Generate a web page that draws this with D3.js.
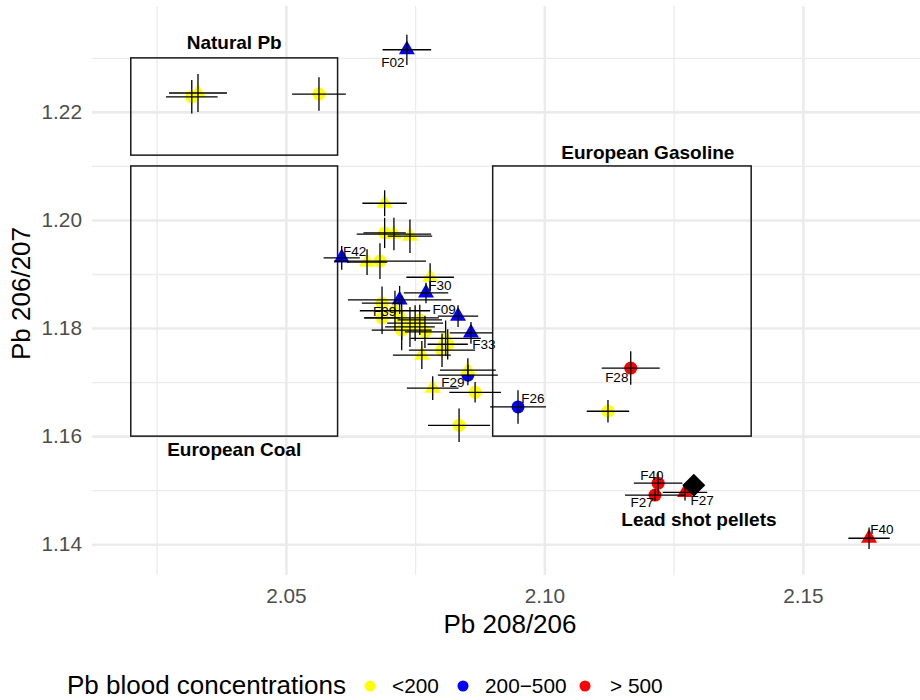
<!DOCTYPE html>
<html>
<head>
<meta charset="utf-8">
<script src="https://cdn.jsdelivr.net/npm/d3@7"></script>
<style>
  body { margin: 0; background: #fff; }
  svg { font-family: "Liberation Sans", Arial, sans-serif; display: block; }
</style>
</head>
<body>
<script>
// Pb isotope ratios of blood samples, with 1 sd error bars
const ratio208_206 = [2.0318, 2.0330, 2.0564, 2.0734, 2.0691, 2.0691, 2.0709, 2.0740, 2.0608, 2.0657,
  2.0682, 2.0779, 2.0771, 2.0720, 2.0686, 2.0686, 2.0711, 2.0724, 2.0750, 2.0724,
  2.0740, 2.0759, 2.0769, 2.0833, 2.0858, 2.0809, 2.0802, 2.0813, 2.0763, 2.0852,
  2.0852, 2.0784, 2.0866, 2.0835, 2.0949, 2.1123, 2.1167, 2.1220, 2.1214, 2.1272, 2.1628];
const ratio206_207 = [1.2228, 1.2235, 1.2233, 1.2315, 1.2031, 1.1976, 1.1974, 1.1970, 1.1930, 1.1922,
  1.1924, 1.1894, 1.1865, 1.1852, 1.1846, 1.1819, 1.1832, 1.1819, 1.1809, 1.1796,
  1.1802, 1.1815, 1.1793, 1.1822, 1.1791, 1.1781, 1.1759, 1.1770, 1.1750, 1.1713,
  1.1722, 1.1689, 1.1681, 1.1620, 1.1654, 1.1646, 1.1726, 1.1513, 1.1491, 1.1496, 1.1411];
const sd208_206 = [0.0050, 0.0056, 0.0052, 0.0047, 0.0043, 0.0041, 0.0072, 0.0043, 0.0035, 0.0039,
  0.0089, 0.0046, 0.0043, 0.0100, 0.0039, 0.0035, 0.0068, 0.0072, 0.0054, 0.0058,
  0.0048, 0.0043, 0.0039, 0.0039, 0.0041, 0.0068, 0.0064, 0.0039, 0.0056, 0.0058,
  0.0054, 0.0050, 0.0050, 0.0060, 0.0054, 0.0041, 0.0056, 0.0047, 0.0058, 0.0043, 0.0040];
const sd206_207 = [0.0031, 0.0035, 0.0031, 0.0028, 0.0024, 0.0028, 0.0030, 0.0031, 0.0022, 0.0024,
  0.0033, 0.0026, 0.0019, 0.0026, 0.0031, 0.0030, 0.0037, 0.0041, 0.0033, 0.0037,
  0.0037, 0.0028, 0.0030, 0.0020, 0.0020, 0.0033, 0.0031, 0.0028, 0.0026, 0.0019,
  0.0022, 0.0022, 0.0019, 0.0031, 0.0031, 0.0021, 0.0031, 0.0020, 0.0011, 0.0015, 0.0020];
const bloodClass = ["<200", "<200", "<200", "200-500", "<200", "<200", "<200", "<200", "200-500", "<200",
  "<200", "<200", "200-500", "200-500", "<200", "<200", "<200", "<200", "<200", "<200",
  "<200", "<200", "<200", "200-500", "200-500", "<200", "<200", "<200", "<200", "200-500",
  "<200", "<200", "<200", "<200", "200-500", "<200", "> 500", "> 500", "> 500", "> 500", "> 500"];
const markerShape = ["circle", "triangle", "circle", "triangle", "triangle", "circle", "triangle", "triangle", "triangle", "triangle",
  "circle", "triangle", "triangle", "triangle", "circle", "circle", "circle", "triangle", "circle", "circle",
  "triangle", "circle", "circle", "triangle", "triangle", "triangle", "circle", "circle", "triangle", "circle",
  "triangle", "triangle", "circle", "circle", "circle", "circle", "circle", "circle", "circle", "triangle", "triangle"];

// Sample id labels, placed in data units
const labelText = ["F02", "F42", "F30", "F09", "F33", "F39", "F29", "F26", "F28", "F40", "F27", "F27", "F40"];
const labelX = [2.0707, 2.0633, 2.0798, 2.0806, 2.0883, 2.0691, 2.0823, 2.0978, 2.1140, 2.1208, 2.1189, 2.1305, 2.1653];
const labelY = [1.2291, 1.1943, 1.1880, 1.1835, 1.1770, 1.1831, 1.1700, 1.1670, 1.1709, 1.1528, 1.1477, 1.1482, 1.1428];

// Lead shot pellets reference value
const pelletX = [2.1289];
const pelletY = [1.1509];

// Source regions
const regionName = ["Natural Pb", "European Coal", "European Gasoline"];
const regionX0 = [2.02, 2.02, 2.09];
const regionX1 = [2.06, 2.06, 2.14];
const regionY0 = [1.212, 1.16, 1.16];
const regionY1 = [1.23, 1.21, 1.21];
const regionLabelX = [2.04, 2.04, 2.12];
const regionLabelY = [1.2328, 1.1576, 1.2126];
const pelletLabel = { text: "Lead shot pellets", x: 2.1299, y: 1.1446 };

// Axis ticks
const xMajorTicks = [2.05, 2.10, 2.15];
const xMinorTicks = [2.025, 2.075, 2.125];
const yMajorTicks = [1.14, 1.16, 1.18, 1.20, 1.22];
const yMinorTicks = [1.15, 1.17, 1.19, 1.21, 1.23];

// Legend
const legendClasses = ["<200", "200-500", "> 500"];
const legendLabels = ["<200", "200\u2212500", "> 500"];
const classColors = ["#FFFF00", "#0000FF", "#FF0000"];

function drawIsotopeChart() {
  const width = 920, height = 700;
  const panel = { left: 92, right: 928, top: 6, bottom: 575 };

  const x = d3.scaleLinear().domain([2.0125, 2.1742]).range([panel.left, panel.right]);
  const y = d3.scaleLinear().domain([1.1343, 1.2396]).range([panel.bottom, panel.top]);
  const color = d3.scaleOrdinal().domain(legendClasses).range(classColors);

  const svg = d3.select("body").append("svg")
    .attr("width", width)
    .attr("height", height);

  // Grid lines (minor first, then major) with tick labels
  const gridH = panel.bottom - panel.top;
  const gridW = panel.right - panel.left;

  const styleGrid = (g, w) => {
    g.select(".domain").remove();
    g.selectAll(".tick line").attr("stroke", "#EBEBEB").attr("stroke-width", w);
  };

  svg.append("g")
    .attr("transform", `translate(0,${panel.bottom})`)
    .call(d3.axisBottom(x).tickValues(xMinorTicks).tickSize(-gridH).tickFormat(""))
    .call(g => styleGrid(g, 1.3));
  svg.append("g")
    .attr("transform", `translate(${panel.left},0)`)
    .call(d3.axisLeft(y).tickValues(yMinorTicks).tickSize(-gridW).tickFormat(""))
    .call(g => styleGrid(g, 1.3));

  const xAxis = svg.append("g")
    .attr("transform", `translate(0,${panel.bottom})`)
    .call(d3.axisBottom(x).tickValues(xMajorTicks).tickSize(-gridH).tickPadding(13).tickFormat(d3.format(".2f")))
    .call(g => styleGrid(g, 2.6));
  const yAxis = svg.append("g")
    .attr("transform", `translate(${panel.left},0)`)
    .call(d3.axisLeft(y).tickValues(yMajorTicks).tickSize(-gridW).tickPadding(10).tickFormat(d3.format(".2f")))
    .call(g => styleGrid(g, 2.6));

  [xAxis, yAxis].forEach(g => g.selectAll(".tick text")
    .attr("font-size", 20.8)
    .attr("font-family", "Liberation Sans, Arial, sans-serif")
    .attr("fill", "#4D4D4D"));

  // Axis titles
  svg.append("text")
    .attr("x", (panel.left + panel.right) / 2)
    .attr("y", 633)
    .attr("text-anchor", "middle")
    .attr("font-size", 26)
    .text("Pb 208/206");

  svg.append("text")
    .attr("transform", `translate(21,${(panel.top + panel.bottom) / 2 + 3}) rotate(-90)`)
    .attr("text-anchor", "middle")
    .attr("dy", "0.35em")
    .attr("font-size", 26)
    .text("Pb 206/207");

  // Source region boxes
  svg.append("g").selectAll("rect")
    .data(regionName)
    .join("rect")
    .attr("x", (d, i) => x(regionX0[i]))
    .attr("y", (d, i) => y(regionY1[i]))
    .attr("width", (d, i) => x(regionX1[i]) - x(regionX0[i]))
    .attr("height", (d, i) => y(regionY0[i]) - y(regionY1[i]))
    .attr("fill", "none")
    .attr("stroke", "#1a1a1a")
    .attr("stroke-width", 1.5);

  // Points
  const symbolSize = { circle: 133, triangle: 110 };
  const symbolType = { circle: d3.symbolCircle, triangle: d3.symbolTriangle };

  svg.append("g").selectAll("path")
    .data(ratio208_206)
    .join("path")
    .attr("transform", (d, i) => `translate(${x(d)},${y(ratio206_207[i])})`)
    .attr("d", (d, i) => d3.symbol().type(symbolType[markerShape[i]]).size(symbolSize[markerShape[i]])())
    .attr("fill", (d, i) => color(bloodClass[i]));

  // Error bars drawn on top of the points
  const bars = svg.append("g")
    .attr("stroke", "#000")
    .attr("stroke-width", 1.3);

  bars.selectAll("line.h")
    .data(ratio208_206)
    .join("line")
    .attr("class", "h")
    .attr("x1", (d, i) => x(d - sd208_206[i]))
    .attr("x2", (d, i) => x(d + sd208_206[i]))
    .attr("y1", (d, i) => y(ratio206_207[i]))
    .attr("y2", (d, i) => y(ratio206_207[i]));

  bars.selectAll("line.v")
    .data(ratio208_206)
    .join("line")
    .attr("class", "v")
    .attr("x1", d => x(d))
    .attr("x2", d => x(d))
    .attr("y1", (d, i) => y(ratio206_207[i] - sd206_207[i]))
    .attr("y2", (d, i) => y(ratio206_207[i] + sd206_207[i]));

  // Lead shot pellets reference (black diamond)
  svg.append("g").selectAll("path")
    .data(pelletX)
    .join("path")
    .attr("transform", (d, i) => `translate(${x(d)},${y(pelletY[i])}) rotate(45)`)
    .attr("d", d3.symbol().type(d3.symbolSquare).size(265)())
    .attr("fill", "#000");

  // Sample labels
  svg.append("g").selectAll("text")
    .data(labelText)
    .join("text")
    .attr("x", (d, i) => x(labelX[i]))
    .attr("y", (d, i) => y(labelY[i]))
    .attr("dy", "0.35em")
    .attr("text-anchor", "middle")
    .attr("font-size", 13.5)
    .text(d => d);

  // Region labels
  svg.append("g").selectAll("text")
    .data(regionName)
    .join("text")
    .attr("x", (d, i) => x(regionLabelX[i]))
    .attr("y", (d, i) => y(regionLabelY[i]))
    .attr("dy", "0.35em")
    .attr("text-anchor", "middle")
    .attr("font-size", 19)
    .attr("font-weight", "bold")
    .text(d => d);

  svg.append("text")
    .attr("x", x(pelletLabel.x))
    .attr("y", y(pelletLabel.y))
    .attr("dy", "0.35em")
    .attr("text-anchor", "middle")
    .attr("font-size", 19)
    .attr("font-weight", "bold")
    .text(pelletLabel.text);

  // Legend
  const legend = svg.append("g");
  legend.append("text")
    .attr("x", 67)
    .attr("y", 694)
    .attr("font-size", 26)
    .text("Pb blood concentrations");

  const keyX = [370, 463, 585];
  const keys = legend.selectAll("g.key")
    .data(legendClasses)
    .join("g")
    .attr("class", "key")
    .attr("transform", (d, i) => `translate(${keyX[i]},686)`);

  keys.append("circle")
    .attr("r", 5.5)
    .attr("fill", d => color(d));

  keys.append("text")
    .attr("x", (d, i) => (i === 2 ? 25 : 22))
    .attr("y", 7)
    .attr("font-size", 20.8)
    .attr("fill", "#000")
    .text((d, i) => legendLabels[i]);
}

drawIsotopeChart();
</script>
</body>
</html>
